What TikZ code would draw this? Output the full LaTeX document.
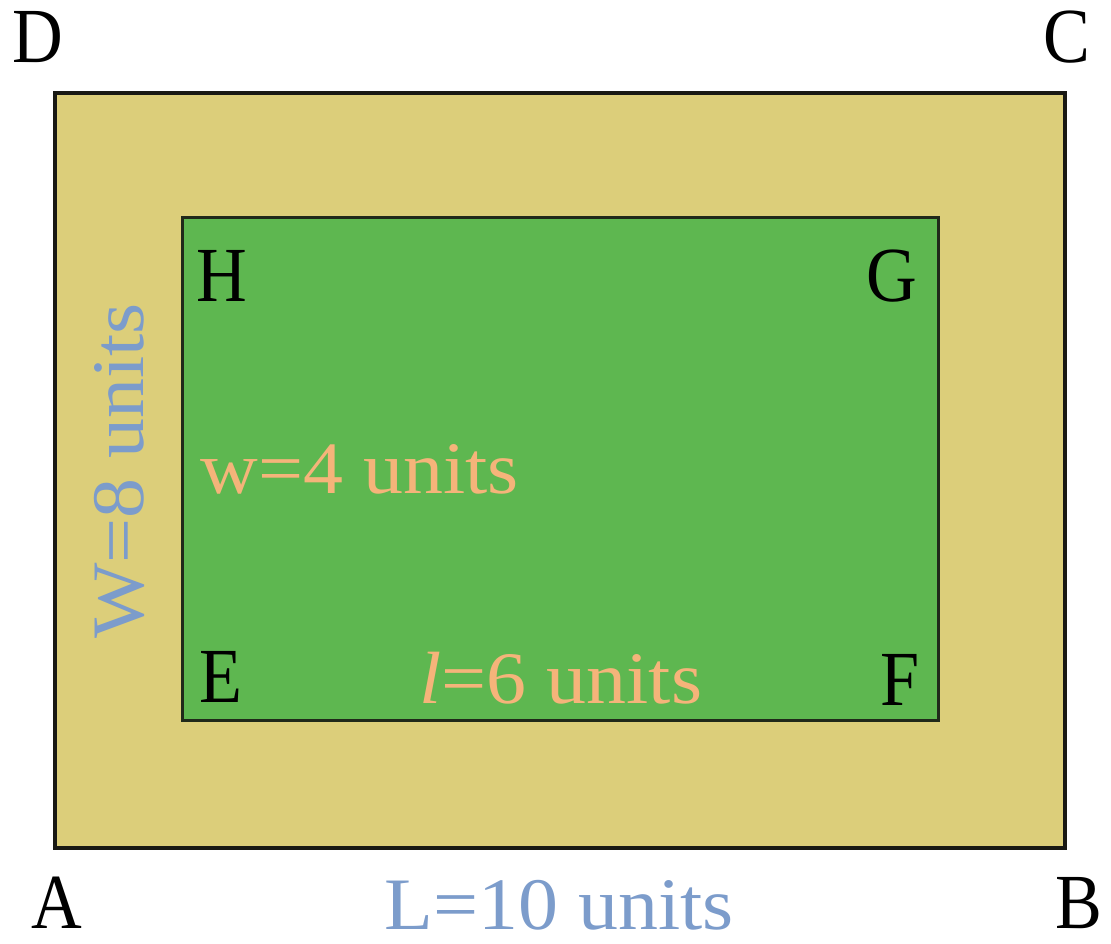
\documentclass[tikz,border=0pt]{standalone}
\usepackage{fontspec}
\setmainfont{Liberation Serif}
\newfontfamily\labfont[FakeStretch=1.08]{Liberation Serif}
\newfontfamily\ptfont[FakeStretch=0.9]{Liberation Serif}
\definecolor{frameyellow}{RGB}{220,206,122}
\definecolor{gardengreen}{RGB}{94,183,80}
\definecolor{labblue}{RGB}{124,156,203}
\definecolor{laborange}{RGB}{245,180,122}
\definecolor{edgedark}{RGB}{25,25,20}
\tikzset{
  pt/.style={inner sep=0pt, anchor=base, text depth=0pt, font=\ptfont\fontsize{78}{78}\selectfont, text=black},
  lab/.style={inner sep=0pt, anchor=base, text depth=0pt, font=\labfont\fontsize{74}{74}\selectfont},
  outerbox/.style={fill=frameyellow, draw=edgedark, line width=3.5pt},
  innerbox/.style={fill=gardengreen, draw=edgedark!90!gardengreen, line width=3pt}
}
\begin{document}
\begin{tikzpicture}[x=1pt,y=-1pt]
\useasboundingbox (0,0) rectangle (1111,944);
\draw[outerbox] (55,93) rectangle (1065,848);
\draw[innerbox] (182,218) rectangle (938,720);
\node[pt] (D) at (38,63) {D};
\node[pt] (C) at (1067,63) {C};
\node[pt] (A) at (57,928) {A};
\node[pt] (B) at (1079,928) {B};
\node[pt] (H) at (222,301) {H};
\node[pt] (G) at (892,301) {G};
\node[pt] (E) at (221,702) {E};
\node[pt] (F) at (900,705) {F};
\node[lab, text=labblue] (L) at (559,929) {L=10 units};
\node[lab, text=labblue, rotate=90] (W) at (143,471) {W=8 units};
\node[lab, text=laborange] (w) at (360,493) {w=4 units};
\node[lab, text=laborange] (l) at (561,703) {\textit{l}=6 units};
\end{tikzpicture}
\end{document}
